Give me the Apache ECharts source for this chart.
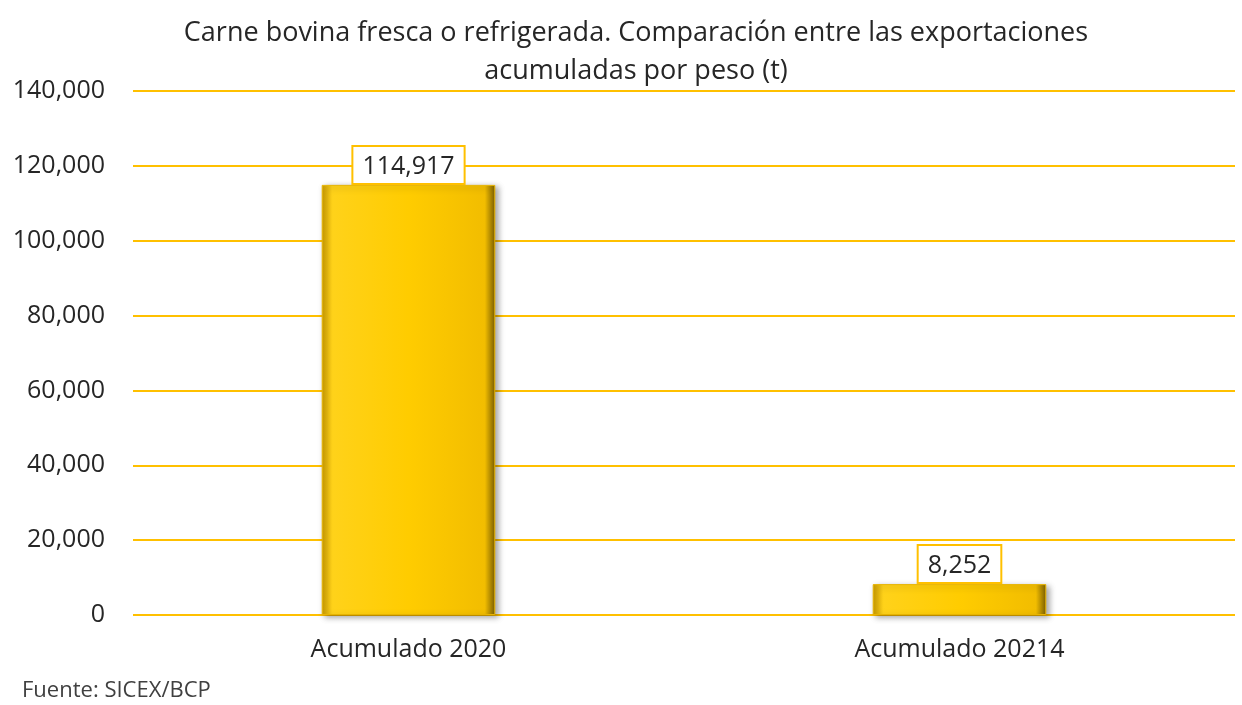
<!DOCTYPE html>
<html>
<head>
<meta charset="utf-8">
<script src="https://cdn.jsdelivr.net/npm/echarts@6/dist/echarts.min.js"></script>
<style>
    html, body { margin: 0; padding: 0; background: #fff; }
    #chart { width: 1242px; height: 705px; }
</style>
</head>
<body>
<div id="chart"></div>
<script>
// datos
var categorias = ['Acumulado 2020', 'Acumulado 20214'];
var toneladas = [114917, 8252];
var ejeY = { min: 0, max: 140000, interval: 20000 };

var chart = echarts.init(document.getElementById('chart'));

var fuente = 'Open Sans, sans-serif';

var barColor = new echarts.graphic.LinearGradient(0, 0, 1, 0, [
    { offset: 0, color: '#C99A00' },
    { offset: 0.06, color: '#FFD21A' },
    { offset: 0.5, color: '#FFCC00' },
    { offset: 0.94, color: '#F2BD00' },
    { offset: 1, color: '#7A5E00' }
]);

chart.setOption({
    backgroundColor: '#fff',
    animation: false,
    title: {
        text: 'Carne bovina fresca o refrigerada. Comparación entre las exportaciones\nacumuladas por peso (t)',
        left: 631,
        textAlign: 'center',
        top: 9,
        textStyle: {
            fontFamily: fuente,
            fontWeight: 'normal',
            fontSize: 27,
            lineHeight: 38,
            color: '#262626'
        }
    },
    grid: {
        left: 133,
        right: 7,
        top: 91,
        bottom: 90
    },
    xAxis: {
        type: 'category',
        data: categorias,
        axisLine: { show: false },
        axisTick: { show: false },
        axisLabel: {
            fontFamily: fuente,
            fontSize: 25,
            color: '#262626',
            margin: 22
        }
    },
    yAxis: {
        type: 'value',
        min: ejeY.min,
        max: ejeY.max,
        interval: ejeY.interval,
        axisLine: { show: false },
        axisTick: { show: false },
        axisLabel: {
            fontFamily: fuente,
            fontSize: 25,
            color: '#262626',
            margin: 28,
            formatter: function (v) {
                return v.toLocaleString('en-US');
            }
        },
        splitLine: {
            lineStyle: { color: '#FFC000', width: 2 }
        }
    },
    series: [{
        type: 'bar',
        data: toneladas,
        barWidth: '31.5%',
        itemStyle: {
            color: barColor,
            borderColor: '#E8B400',
            borderWidth: 1,
            shadowColor: 'rgba(0,0,0,0.35)',
            shadowBlur: 6,
            shadowOffsetX: 3,
            shadowOffsetY: 2
        },
        label: {
            show: true,
            position: 'top',
            distance: 2,
            fontFamily: fuente,
            fontSize: 25,
            color: '#262626',
            backgroundColor: '#fff',
            borderColor: '#FFC000',
            borderWidth: 2,
            padding: [7, 9, 4, 9],
            formatter: function (p) {
                return p.value.toLocaleString('en-US');
            }
        }
    }],
    graphic: [{
        type: 'text',
        left: 22,
        top: 680,
        style: {
            text: 'Fuente: SICEX/BCP',
            fontFamily: fuente,
            fontSize: 22,
            fill: '#404040'
        }
    }]
});
</script>
</body>
</html>
